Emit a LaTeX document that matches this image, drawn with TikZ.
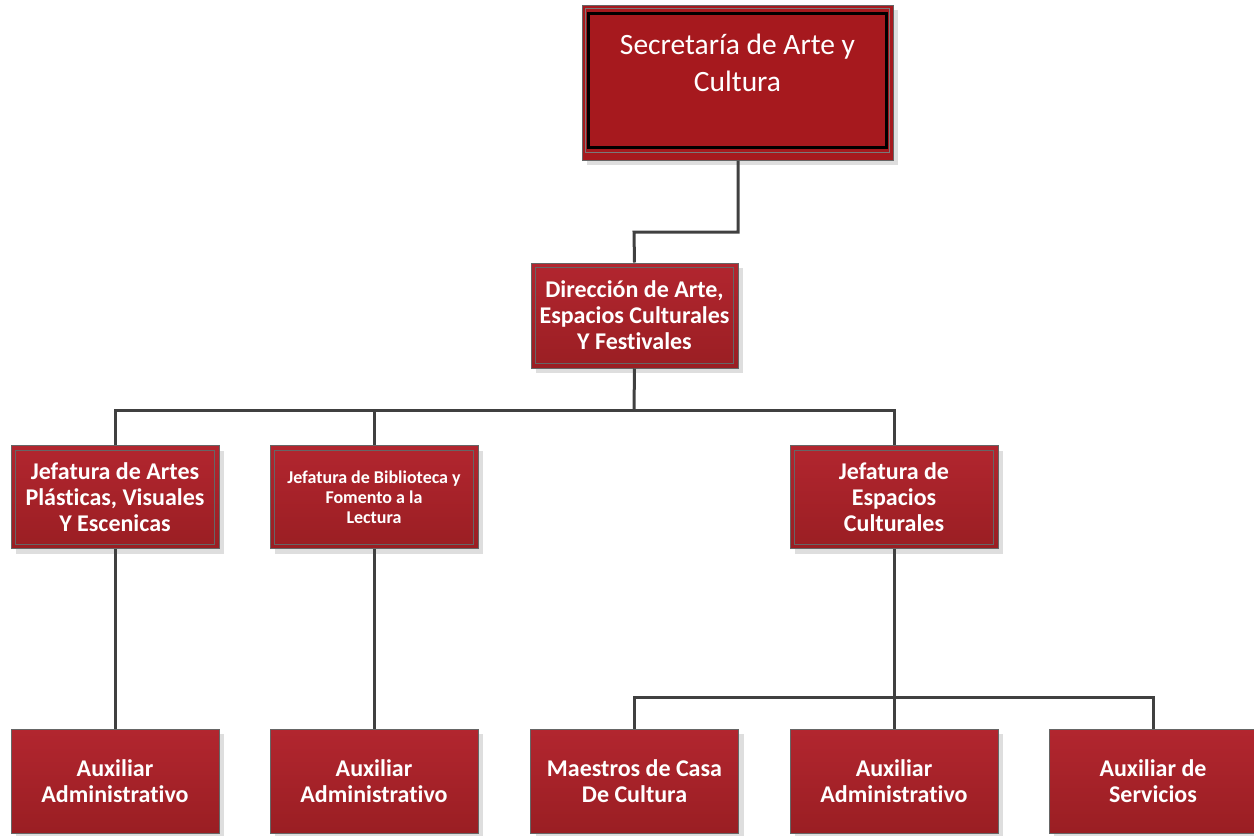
\documentclass[tikz,border=0pt]{standalone}
\usepackage{fontspec}
\setmainfont{Carlito}[Ligatures={NoCommon,NoDiscretionary,NoRare}]
\usetikzlibrary{shadows}
\definecolor{redtop}{HTML}{B2262F}
\definecolor{redbot}{HTML}{9A1E23}
\definecolor{redflat}{HTML}{A6191E}
\definecolor{linec}{HTML}{404040}
\begin{document}
\begin{tikzpicture}[x=1pt,y=-1pt,
  box/.style={draw=linec!80, line width=1pt, shading=axis, top color=redtop, bottom color=redbot,
    text=white, font=\fontsize{24}{26}\selectfont\bfseries, align=center, inner sep=0pt,
    minimum width=208pt, minimum height=103pt,
    drop shadow={shadow xshift=5pt, shadow yshift=-5pt, fill=black!13, opacity=1}},
  conn/.style={draw=linec, line width=3pt}
]
\useasboundingbox (0,0) rectangle (1254,836);
\coordinate (c1) at (738,232);
\coordinate (c2) at (634,232);
\coordinate (h1) at (634,410);
\coordinate (h2) at (894,697);
% nodes
\node[box, top color=redflat, bottom color=redflat, minimum width=311pt, minimum height=155pt] (sec) at (737.5,82.5) {};
\node[text=white, font=\fontsize{29.5}{37}\selectfont, align=center] (sect) at (737.5,63) {Secretaría de Arte y\\Cultura};
\node[box, minimum width=207pt, minimum height=105pt] (dir) at (634.5,315.5) {Dirección de Arte,\\Espacios Culturales\\Y Festivales};
\node[box] (j1) at (115,497) {Jefatura de Artes\\Plásticas, Visuales\\Y Escenicas};
\node[box, font=\fontsize{18}{20}\selectfont\bfseries] (j2) at (374,497) {Jefatura de Biblioteca y\\Fomento a la\\Lectura};
\node[box] (j3) at (894,497) {Jefatura de\\Espacios\\Culturales};
\node[box, minimum height=104pt] (a1) at (115,781) {Auxiliar\\Administrativo};
\node[box, minimum height=104pt] (a2) at (374,781) {Auxiliar\\Administrativo};
\node[box, minimum height=104pt] (m3) at (634.5,781) {Maestros de Casa\\De Cultura};
\node[box, minimum height=104pt] (a3) at (894,781) {Auxiliar\\Administrativo};
\node[box, minimum height=104pt] (s3) at (1153,781) {Auxiliar de\\Servicios};
% inner borders
\draw[black, line width=3pt] ([shift={(6.5pt,-8.5pt)}]sec.north west) rectangle ([shift={(-7.5pt,13pt)}]sec.south east);
\draw[linec!70, line width=0.8pt] ([shift={(4pt,-4pt)}]sec.north west) rectangle ([shift={(-4pt,8pt)}]sec.south east);
\foreach \n in {dir,j1,j2,j3}
  \draw[linec!80, line width=0.8pt] ([shift={(5pt,-5pt)}]\n.north west) rectangle ([shift={(-5pt,5pt)}]\n.south east);
% connectors
\draw[conn] (sec.south -| c1) -- (c1) -- (c2) -- (dir.north);
\draw[conn] (dir.south) -- (h1);
\draw[conn] (j1.north) |- (h1) -| (j3.north);
\draw[conn] (j2.north) -- (j2.north |- h1);
\draw[conn] (j1.south) -- (a1.north);
\draw[conn] (j2.south) -- (a2.north);
\draw[conn] (j3.south) -- (h2);
\draw[conn] (m3.north) |- (h2) -| (s3.north);
\draw[conn] (h2) -- (a3.north);
\end{tikzpicture}
\end{document}
